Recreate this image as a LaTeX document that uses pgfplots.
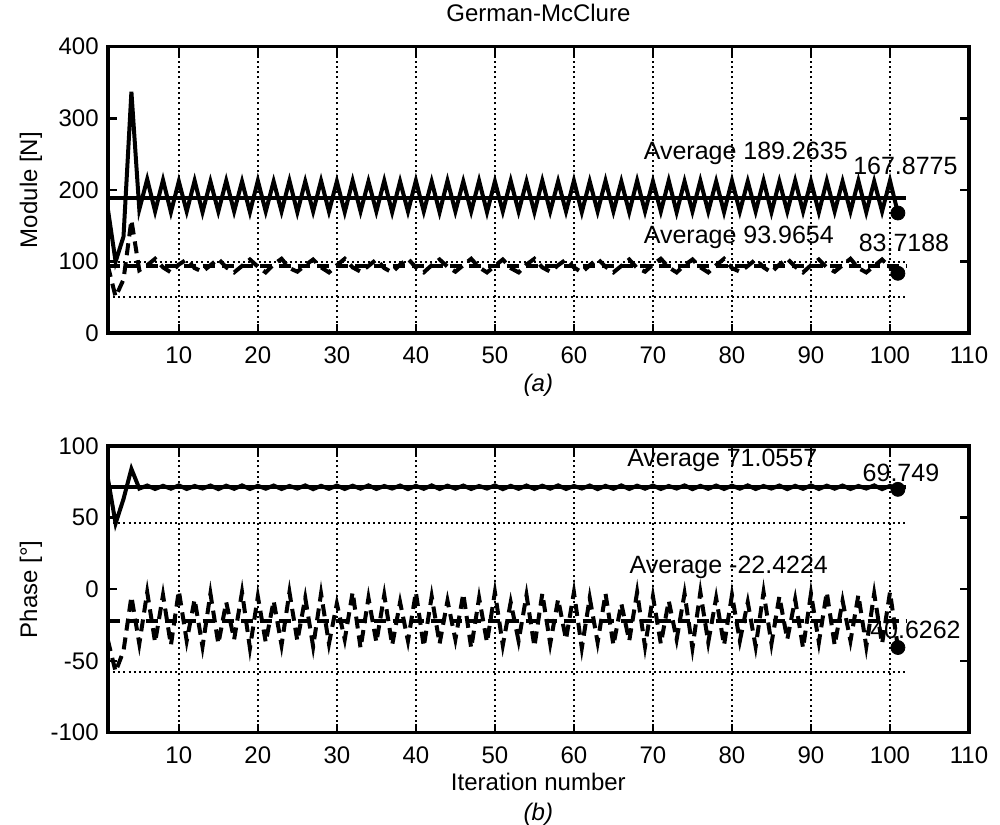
\documentclass[border=0pt]{standalone}
\usepackage{fontspec}
\setmainfont{Liberation Sans}
\usepackage{pgfplots}
\pgfplotsset{compat=1.18}
\tikzset{ann/.style={anchor=base west, inner sep=0pt, font=\fontsize{12.5}{15}\selectfont}}
\begin{document}
\begin{tikzpicture}[x=1pt,y=1pt]
\useasboundingbox (0,0) rectangle (500,412);
\pgfplotsset{
  myax/.style={
    scale only axis, width=430.65pt, height=143.3pt,
    xmin=1, xmax=110,
    xtick={10,20,30,40,50,60,70,80,90,100,110},
    xticklabels={10,20,30,40,50,60,70,80,90,100,110},
    tick align=inside, xtick pos=both, ytick pos=both,
    major tick length=4.5pt,
    tick style={black, line width=1.2pt},
    axis line style={line width=1.8pt},
    xmajorgrids, grid style={black, line width=0.9pt, dash pattern=on 1pt off 1.6pt},
    font=\fontsize{12}{14.4}\selectfont,
    xticklabel style={yshift=-3.3pt},
    yticklabel style={xshift=-1pt},
    ylabel style={at={(axis description cs:-0.0892,0.5)}, anchor=center},
    xlabel style={at={(axis description cs:0.5,0)}, anchor=north, yshift=-20pt, inner sep=0pt, align=center, font=\fontsize{12}{15}\selectfont},
  },
  sol/.style={black, line width=2pt, no markers},
  das/.style={black, line width=2pt, dash pattern=on 6pt off 3.5pt, no markers},
  dot/.style={black, line width=0.9pt, dash pattern=on 1pt off 1.6pt, no markers},
  endpt/.style={only marks, mark=*, mark size=3.5pt, black},
}
% ---------------- top axis ----------------
\begin{axis}[myax, at={(53.85pt,245.35pt)}, anchor=south west,
  ymin=0, ymax=400, ytick={0,100,200,300,400}, yticklabels={0,100,200,300,400},
  ylabel={Module [N]}, xlabel={\textit{(a)}},
  title={German-McClure},
  title style={at={(axis description cs:0.5,1)}, anchor=center, yshift=10.8pt},
]
\addplot[dot] coordinates {(1,100) (102,100)};
\addplot[dot] coordinates {(1,51) (102,51)};
\addplot[sol] coordinates {(1,189.2635) (102,189.2635)};
\addplot[das] coordinates {(1,93.9654) (102,93.9654)};
\addplot[sol] coordinates {
(1,175) (2,100) (3,135) (4,337) (5,173) (6,215) (7,170) (8,214) (9,169) (10,212)
(11,170) (12,213) (13,169) (14,212) (15,170) (16,213) (17,170) (18,212) (19,169) (20,213)
(21,170) (22,212) (23,170) (24,213) (25,169) (26,212) (27,170) (28,213) (29,170) (30,212)
(31,169) (32,213) (33,170) (34,212) (35,170) (36,213) (37,169) (38,212) (39,170) (40,213)
(41,170) (42,212) (43,169) (44,213) (45,170) (46,212) (47,170) (48,213) (49,169) (50,212)
(51,170) (52,213) (53,170) (54,212) (55,169) (56,213) (57,170) (58,212) (59,170) (60,213)
(61,169) (62,212) (63,170) (64,213) (65,170) (66,212) (67,169) (68,213) (69,170) (70,212)
(71,170) (72,213) (73,169) (74,212) (75,170) (76,213) (77,170) (78,212) (79,169) (80,213)
(81,170) (82,212) (83,170) (84,213) (85,169) (86,212) (87,170) (88,213) (89,170) (90,212)
(91,169) (92,213) (93,170) (94,212) (95,170) (96,213) (97,169) (98,212) (99,170) (100,213)
(101,167.8775)};
\addplot[das] coordinates {
(1,95) (2,51) (3,75) (4,158) (5,88) (6,95) (7,104) (8,92) (9,85) (10,96)
(11,103) (12,91) (13,86) (14,95) (15,104) (16,92) (17,85) (18,94) (19,103) (20,93)
(21,85) (22,96) (23,104) (24,91) (25,86) (26,95) (27,103) (28,92) (29,85) (30,95)
(31,104) (32,92) (33,86) (34,94) (35,103) (36,91) (37,85) (38,96) (39,104) (40,92)
(41,85) (42,95) (43,103) (44,93) (45,86) (46,95) (47,104) (48,92) (49,85) (50,94)
(51,103) (52,91) (53,85) (54,96) (55,104) (56,92) (57,86) (58,95) (59,103) (60,92)
(61,85) (62,95) (63,104) (64,93) (65,85) (66,94) (67,103) (68,91) (69,86) (70,96)
(71,104) (72,92) (73,85) (74,95) (75,103) (76,92) (77,85) (78,95) (79,104) (80,91)
(81,86) (82,94) (83,103) (84,92) (85,85) (86,96) (87,104) (88,93) (89,85) (90,95)
(91,103) (92,92) (93,86) (94,95) (95,104) (96,91) (97,85) (98,94) (99,103) (100,92)
(101,83.7188)};
\addplot[endpt] coordinates {(101,167.8775) (101,83.7188)};
\node[ann] at (axis cs:68.8,241.9) {Average 189.2635};
\node[ann] at (axis cs:95.3,222.3) {167.8775};
\node[ann] at (axis cs:68.8,125.6) {Average 93.9654};
\node[ann] at (axis cs:96.0,113.9) {83.7188};
\end{axis}
% ---------------- bottom axis ----------------
\begin{axis}[myax, at={(53.85pt,45.7pt)}, anchor=south west,
  ymin=-100, ymax=100, ytick={-100,-50,0,50,100}, yticklabels={-100,-50,0,50,100},
  ylabel={Phase [°]}, xlabel={Iteration number\\\textit{(b)}},
]
\addplot[dot] coordinates {(1,46) (102,46)};
\addplot[dot] coordinates {(1,-57.5) (102,-57.5)};
\addplot[sol] coordinates {(1,71.0557) (102,71.0557)};
\addplot[das] coordinates {(1,-22.4224) (102,-22.4224)};
\addplot[sol] coordinates {
(1,78) (2,46) (3,63) (4,84) (5,70.3) (6,72.4) (7,70.0) (8,72.2) (9,70.2) (10,72.5)
(11,70.0) (12,72.1) (13,70.3) (14,72.4) (15,69.9) (16,72.3) (17,70.1) (18,72.5) (19,70.0) (20,72.2)
(21,70.2) (22,72.4) (23,70.0) (24,72.1) (25,70.3) (26,72.5) (27,69.9) (28,72.2) (29,70.1) (30,72.4)
(31,70.0) (32,72.3) (33,70.2) (34,72.5) (35,70.0) (36,72.1) (37,70.3) (38,72.4) (39,69.9) (40,72.2)
(41,70.1) (42,72.5) (43,70.0) (44,72.3) (45,70.2) (46,72.4) (47,70.0) (48,72.1) (49,70.3) (50,72.5)
(51,69.9) (52,72.2) (53,70.1) (54,72.4) (55,70.0) (56,72.3) (57,70.2) (58,72.5) (59,70.0) (60,72.1)
(61,70.3) (62,72.4) (63,69.9) (64,72.2) (65,70.1) (66,72.5) (67,70.0) (68,72.3) (69,70.2) (70,72.4)
(71,70.0) (72,72.1) (73,70.3) (74,72.5) (75,69.9) (76,72.2) (77,70.1) (78,72.4) (79,70.0) (80,72.3)
(81,70.2) (82,72.5) (83,70.0) (84,72.1) (85,70.3) (86,72.4) (87,69.9) (88,72.2) (89,70.1) (90,72.5)
(91,70.0) (92,72.3) (93,70.2) (94,72.4) (95,70.0) (96,72.1) (97,70.3) (98,72.5) (99,69.9) (100,72.2)
(101,69.749)};
\addplot[das] coordinates {
(1,-35) (2,-57.5) (3,-43) (4,-5) (5,-38) (6,-2) (7,-37) (8,-4) (9,-39) (10,-1)
(11,-36) (12,-7) (13,-40) (14,-3) (15,-38) (16,-9) (17,-35) (18,-2) (19,-41) (20,-5)
(21,-37) (22,-8) (23,-39) (24,-2) (25,-36) (26,-6) (27,-40) (28,-3) (29,-38) (30,-10)
(31,-35) (32,-2) (33,-41) (34,-6) (35,-37) (36,-4) (37,-39) (38,-9) (39,-36) (40,-2)
(41,-40) (42,-5) (43,-38) (44,-8) (45,-35) (46,-3) (47,-41) (48,-6) (49,-37) (50,-2)
(51,-39) (52,-9) (53,-36) (54,-4) (55,-40) (56,-3) (57,-38) (58,-7) (59,-35) (60,-2)
(61,-41) (62,-6) (63,-37) (64,-3) (65,-39) (66,-10) (67,-36) (68,-2) (69,-40) (70,-5)
(71,-38) (72,-8) (73,-35) (74,-3) (75,-41) (76,-2) (77,-37) (78,-6) (79,-39) (80,-4)
(81,-36) (82,-9) (83,-40) (84,-2) (85,-38) (86,-5) (87,-35) (88,-7) (89,-41) (90,-3)
(91,-37) (92,-2) (93,-39) (94,-8) (95,-36) (96,-4) (97,-40) (98,-3) (99,-38) (100,-2)
(101,-40.6262)};
\addplot[endpt] coordinates {(101,69.749) (101,-40.6262)};
\node[ann] at (axis cs:66.7,86.0) {Average 71.0557};
\node[ann] at (axis cs:96.5,75.1) {69.749};
\node[ann] at (axis cs:67.0,11.2) {Average -22.4224};
\node[ann] at (axis cs:96.4,-34.2) {-40.6262};
\end{axis}
\end{tikzpicture}
\end{document}
